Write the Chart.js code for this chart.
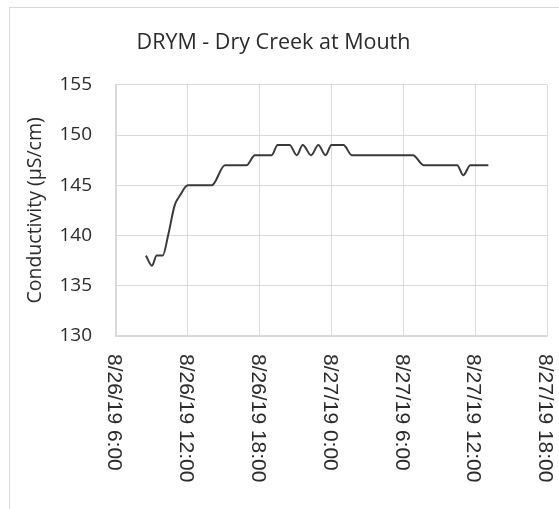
<!DOCTYPE html>
<html>
<head>
<meta charset="utf-8">
<script src="https://cdn.jsdelivr.net/npm/chart.js@4.4.0/dist/chart.umd.min.js"></script>
<style>
  body { margin: 0; background: #fff; }
  #frame { position: absolute; left: 9px; top: 7px; width: 600px; height: 560px; border: 1.5px solid #d9d9d9; }
  canvas { position: absolute; left: 0; top: 0; }
</style>
</head>
<body>
<div id="frame"></div>
<canvas id="drymChart" width="559" height="509"></canvas>
<script>
// hours since 8/26/19 0:00
const hours = [8.5, 9.0, 9.4, 9.9, 10.35, 10.9, 11.35, 12.0, 14.0, 15.1, 16.9, 17.6, 19.0, 19.5, 20.5,
               21.1, 21.6, 22.3, 22.9, 23.5, 24.0, 25.0, 25.7, 30.8, 31.7, 34.5, 35.0, 35.6, 37.1];
const conductivity = [138, 137, 138, 138, 140, 143, 144, 145, 145, 147, 147, 148, 148, 149, 149,
                      148, 149, 148, 149, 148, 149, 149, 148, 148, 147, 147, 146, 147, 147];
const tickHours = [6, 12, 18, 24, 30, 36, 42];
const timeLabels = ['8/26/19 6:00', '8/26/19 12:00', '8/26/19 18:00', '8/27/19 0:00',
                    '8/27/19 6:00', '8/27/19 12:00', '8/27/19 18:00'];

const gridGrey = '#d9d9d9';
const textGrey = '#2b2b2b';

// excel style labels: turned 90deg clockwise, reading down from the axis
const downLabels = {
  id: 'downLabels',
  afterDraw(chart) {
    const ctx = chart.ctx;
    const xs = chart.scales.x;
    ctx.save();
    ctx.fillStyle = textGrey;
    ctx.font = '21px "Liberation Sans"';
    ctx.textAlign = 'left';
    ctx.textBaseline = 'middle';
    tickHours.forEach(function (h, i) {
      const px = xs.getPixelForValue(h);
      ctx.save();
      ctx.translate(px - 2, chart.chartArea.bottom + 18);
      ctx.rotate(Math.PI / 2);
      ctx.fillText(timeLabels[i], 0, 0);
      ctx.restore();
    });
    ctx.restore();
  }
};

new Chart(document.getElementById('drymChart'), {
  type: 'line',
  data: {
    datasets: [{
      label: 'Conductivity',
      data: hours.map(function (h, i) { return { x: h, y: conductivity[i] }; }),
      borderColor: '#3a3a3a',
      borderWidth: 2,
      pointRadius: 0,
      cubicInterpolationMode: 'monotone'
    }]
  },
  options: {
    responsive: false,
    animation: false,
    layout: { padding: { left: 0, right: 12, top: 0, bottom: 0 } },
    plugins: {
      legend: { display: false },
      tooltip: { enabled: false },
      title: {
        display: true,
        text: 'DRYM - Dry Creek at Mouth',
        color: textGrey,
        font: { family: 'Open Sans', size: 21.5, weight: 'normal', lineHeight: 1.2 },
        padding: { top: 30, bottom: 29 }
      }
    },
    scales: {
      x: {
        type: 'linear',
        min: 6,
        max: 42,
        afterBuildTicks: function (scale) {
          scale.ticks = tickHours.map(function (v) { return { value: v }; });
        },
        afterFit: function (scale) { scale.height = 173; },
        ticks: { display: false },
        grid: { color: gridGrey, drawTicks: false },
        border: { color: gridGrey, width: 1.5 }
      },
      y: {
        min: 130,
        max: 155,
        afterFit: function (scale) { scale.width = 116; },
        ticks: {
          stepSize: 5,
          color: textGrey,
          padding: 24,
          font: { family: 'Open Sans', size: 19 }
        },
        grid: { color: gridGrey, drawTicks: false },
        border: { color: gridGrey, width: 1.5 },
        title: {
          display: true,
          text: 'Conductivity (µS/cm)',
          color: textGrey,
          font: { family: 'Open Sans', size: 19.5, lineHeight: 3.65 },
          padding: 0
        }
      }
    }
  },
  plugins: [downLabels]
});
</script>
</body>
</html>
